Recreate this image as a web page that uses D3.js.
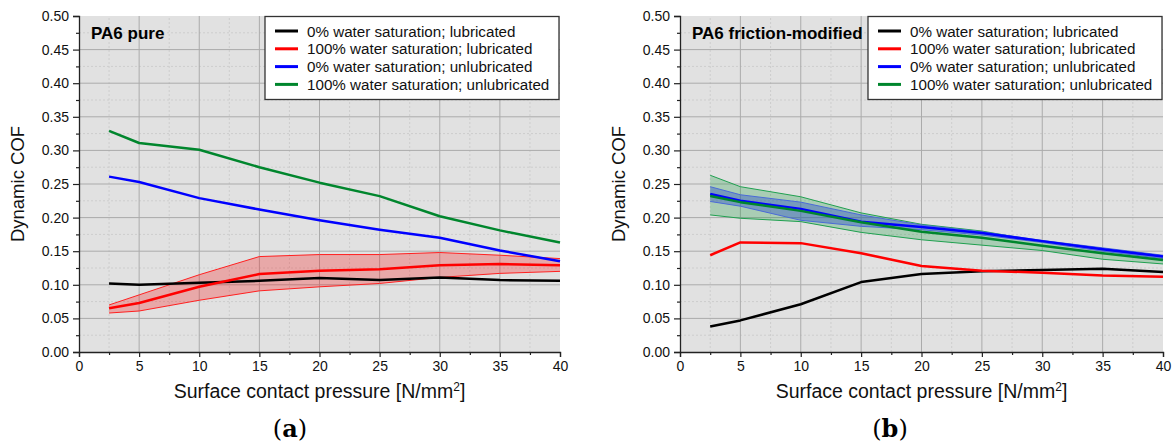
<!DOCTYPE html>
<html><head><meta charset="utf-8">
<script src="https://cdn.jsdelivr.net/npm/d3@7"></script>
<style>body{margin:0;background:#fff}svg{display:block}text{font-family:"Liberation Sans",Arial,sans-serif}</style>
</head><body><svg id="c" width="1172" height="443"></svg>
<script>
const pressure = [2.5, 5, 10, 15, 20, 25, 30, 35, 40];
const xTicks = [0, 5, 10, 15, 20, 25, 30, 35, 40];
const yTicks = [0, 0.05, 0.10, 0.15, 0.20, 0.25, 0.30, 0.35, 0.40, 0.45, 0.50];
const legendLabels = ["0% water saturation; lubricated", "100% water saturation; lubricated", "0% water saturation; unlubricated", "100% water saturation; unlubricated"];
const seriesColors = ["#000000", "#ff0000", "#0000ff", "#00862d"];

// Panel (a) PA6 pure
const a_dry_lub = [0.102, 0.100, 0.103, 0.106, 0.110, 0.107, 0.111, 0.107, 0.106];
const a_wet_lub = [0.065, 0.073, 0.097, 0.116, 0.121, 0.123, 0.129, 0.131, 0.129];
const a_wet_lub_hi = [0.070, 0.085, 0.115, 0.142, 0.145, 0.145, 0.148, 0.144, 0.139];
const a_wet_lub_lo = [0.058, 0.061, 0.077, 0.091, 0.097, 0.102, 0.111, 0.117, 0.120];
const a_dry_unlub = [0.261, 0.253, 0.229, 0.212, 0.196, 0.182, 0.170, 0.151, 0.135];
const a_wet_unlub = [0.329, 0.311, 0.301, 0.275, 0.252, 0.232, 0.202, 0.181, 0.163];

// Panel (b) PA6 friction-modified
const b_dry_lub = [0.038, 0.047, 0.071, 0.104, 0.116, 0.120, 0.122, 0.124, 0.119];
const b_wet_lub = [0.144, 0.163, 0.162, 0.147, 0.128, 0.121, 0.118, 0.114, 0.112];
const b_dry_unlub = [0.235, 0.225, 0.213, 0.194, 0.186, 0.177, 0.165, 0.153, 0.142];
const b_dry_unlub_hi = [0.246, 0.234, 0.223, 0.204, 0.189, 0.179, 0.166, 0.155, 0.144];
const b_dry_unlub_lo = [0.224, 0.217, 0.196, 0.187, 0.182, 0.174, 0.163, 0.150, 0.139];
const b_wet_unlub = [0.232, 0.223, 0.210, 0.193, 0.179, 0.170, 0.158, 0.147, 0.137];
const b_wet_unlub_hi = [0.263, 0.246, 0.231, 0.207, 0.190, 0.180, 0.164, 0.153, 0.142];
const b_wet_unlub_lo = [0.204, 0.199, 0.194, 0.178, 0.167, 0.159, 0.151, 0.138, 0.131];

const svg = d3.select("#c");

function panel(opt) {
  const g = svg.append("g");
  const x = d3.scaleLinear().domain([0, 40]).range([opt.x0, opt.x1]);
  const y = d3.scaleLinear().domain([0, 0.5]).range([352, 16]);
  g.append("rect").attr("x", x(0)).attr("y", y(0.5)).attr("width", x(40) - x(0)).attr("height", y(0) - y(0.5)).attr("fill", "#e1e1e1");
  // minor grid
  const xMinor = d3.range(2.5, 40, 5), yMinor = d3.range(0.025, 0.5, 0.05);
  g.selectAll(null).data(xMinor).join("line").attr("x1", d => x(d)).attr("x2", d => x(d)).attr("y1", y(0)).attr("y2", y(0.5)).attr("stroke", "#cdcdcd").attr("stroke-dasharray", "2,2");
  g.selectAll(null).data(yMinor).join("line").attr("y1", d => y(d)).attr("y2", d => y(d)).attr("x1", x(0)).attr("x2", x(40)).attr("stroke", "#cdcdcd").attr("stroke-dasharray", "2,2");
  // major grid
  g.selectAll(null).data(xTicks.slice(1, -1)).join("line").attr("x1", d => x(d)).attr("x2", d => x(d)).attr("y1", y(0)).attr("y2", y(0.5)).attr("stroke", "#ababab");
  g.selectAll(null).data(yTicks.slice(1, -1)).join("line").attr("y1", d => y(d)).attr("y2", d => y(d)).attr("x1", x(0)).attr("x2", x(40)).attr("stroke", "#ababab");

  const line = d3.line().x((d, i) => x(pressure[i])).y(d => y(d));
  const area = (hi, lo) => d3.area().x((d, i) => x(pressure[i])).y0((d, i) => y(lo[i])).y1((d, i) => y(hi[i]))(hi);

  opt.bands.forEach(b => {
    g.append("path").attr("d", area(b.hi, b.lo)).attr("fill", b.fill).attr("fill-opacity", b.op);
    [b.hi, b.lo].forEach(s => g.append("path").attr("d", line(s)).attr("fill", "none").attr("stroke", b.edge).attr("stroke-width", 1));
  });
  opt.lines.forEach(l => {
    g.append("path").attr("d", line(l.v)).attr("fill", "none").attr("stroke", l.c).attr("stroke-width", 2.5).attr("stroke-linejoin", "round");
  });

  // axes
  const xa = g.append("g").attr("transform", `translate(0,${y(0)})`)
    .call(d3.axisBottom(x).tickValues(xTicks).tickFormat(d3.format("d")).tickSize(5).tickPadding(4));
  const xm = g.append("g").attr("transform", `translate(0,${y(0)})`)
    .call(d3.axisBottom(x).tickValues(xMinor).tickFormat("").tickSize(3));
  const ya = g.append("g").attr("transform", `translate(${x(0)},0)`)
    .call(d3.axisLeft(y).tickValues(yTicks).tickFormat(d3.format(".2f")).tickSize(6).tickPadding(4));
  const ym = g.append("g").attr("transform", `translate(${x(0)},0)`)
    .call(d3.axisLeft(y).tickValues(yMinor).tickFormat("").tickSize(3));
  [xa, xm, ya, ym].forEach(a => {
    a.selectAll("path.domain").attr("stroke", "#222").attr("stroke-width", 1.3);
    a.selectAll(".tick line").attr("stroke", "#222").attr("stroke-width", 1.2);
    a.selectAll("text").attr("font-size", 14).attr("fill", "#111").style("font-family", '"Liberation Sans",Arial,sans-serif');
  });
  xm.select("path.domain").remove(); ym.select("path.domain").remove();

  // title
  g.append("text").attr("x", x(0) + 12).attr("y", 39).attr("font-size", 17).attr("font-weight", "bold").text(opt.title);

  // legend
  const lx = opt.legX, lw = x(40) - lx - 1;
  g.append("rect").attr("x", lx).attr("y", 16.5).attr("width", lw).attr("height", 83).attr("fill", "#fff").attr("stroke", "#333").attr("stroke-width", 1.3);
  legendLabels.forEach((t, i) => {
    const yy = 31 + i * 17.8;
    g.append("line").attr("x1", lx + 10).attr("x2", lx + 33).attr("y1", yy).attr("y2", yy).attr("stroke", seriesColors[i]).attr("stroke-width", 3);
    g.append("text").attr("x", lx + 42).attr("y", yy + 5.5).attr("font-size", 15.2).attr("fill", "#111").text(t);
  });

  // axis labels
  g.append("text").attr("transform", `translate(${opt.x0 - 55},${(y(0) + y(0.5)) / 2}) rotate(-90)`).attr("text-anchor", "middle").attr("font-size", 18.5).attr("fill", "#111").text("Dynamic COF");
  const xl = g.append("text").attr("x", (opt.x0 + opt.x1) / 2).attr("y", 398).attr("text-anchor", "middle").attr("font-size", 19.5).attr("fill", "#111");
  xl.append("tspan").text("Surface contact pressure [N/mm");
  xl.append("tspan").attr("font-size", 12).attr("dy", -7).text("2");
  xl.append("tspan").attr("dy", 7).text("]");
  // caption
  const cap = g.append("text").attr("x", opt.capX).attr("y", 437).attr("text-anchor", "middle").attr("font-size", 24).style("font-family", '"DejaVu Serif","Liberation Serif",serif');
  cap.append("tspan").text("(");
  cap.append("tspan").attr("font-weight", "bold").text(opt.cap);
  cap.append("tspan").text(")");
}

panel({
  x0: 79, x1: 560, title: "PA6 pure", legX: 265, capX: 290, cap: "a",
  bands: [{ hi: a_wet_lub_hi, lo: a_wet_lub_lo, fill: "#ff0000", op: 0.25, edge: "#ff2020" }],
  lines: [{ v: a_dry_lub, c: "#000" }, { v: a_wet_unlub, c: "#00862d" }, { v: a_dry_unlub, c: "#0000ff" }, { v: a_wet_lub, c: "#ff0000" }]
});
panel({
  x0: 680, x1: 1163, title: "PA6 friction-modified", legX: 868, capX: 890, cap: "b",
  bands: [{ hi: b_wet_unlub_hi, lo: b_wet_unlub_lo, fill: "#1a9a40", op: 0.28, edge: "#20a050" },
          { hi: b_dry_unlub_hi, lo: b_dry_unlub_lo, fill: "#2a4ec8", op: 0.4, edge: "#4a6ad8" }],
  lines: [{ v: b_dry_lub, c: "#000" }, { v: b_wet_lub, c: "#ff0000" }, { v: b_dry_unlub, c: "#0000ff" }, { v: b_wet_unlub, c: "#00862d" }]
});
</script></body></html>
